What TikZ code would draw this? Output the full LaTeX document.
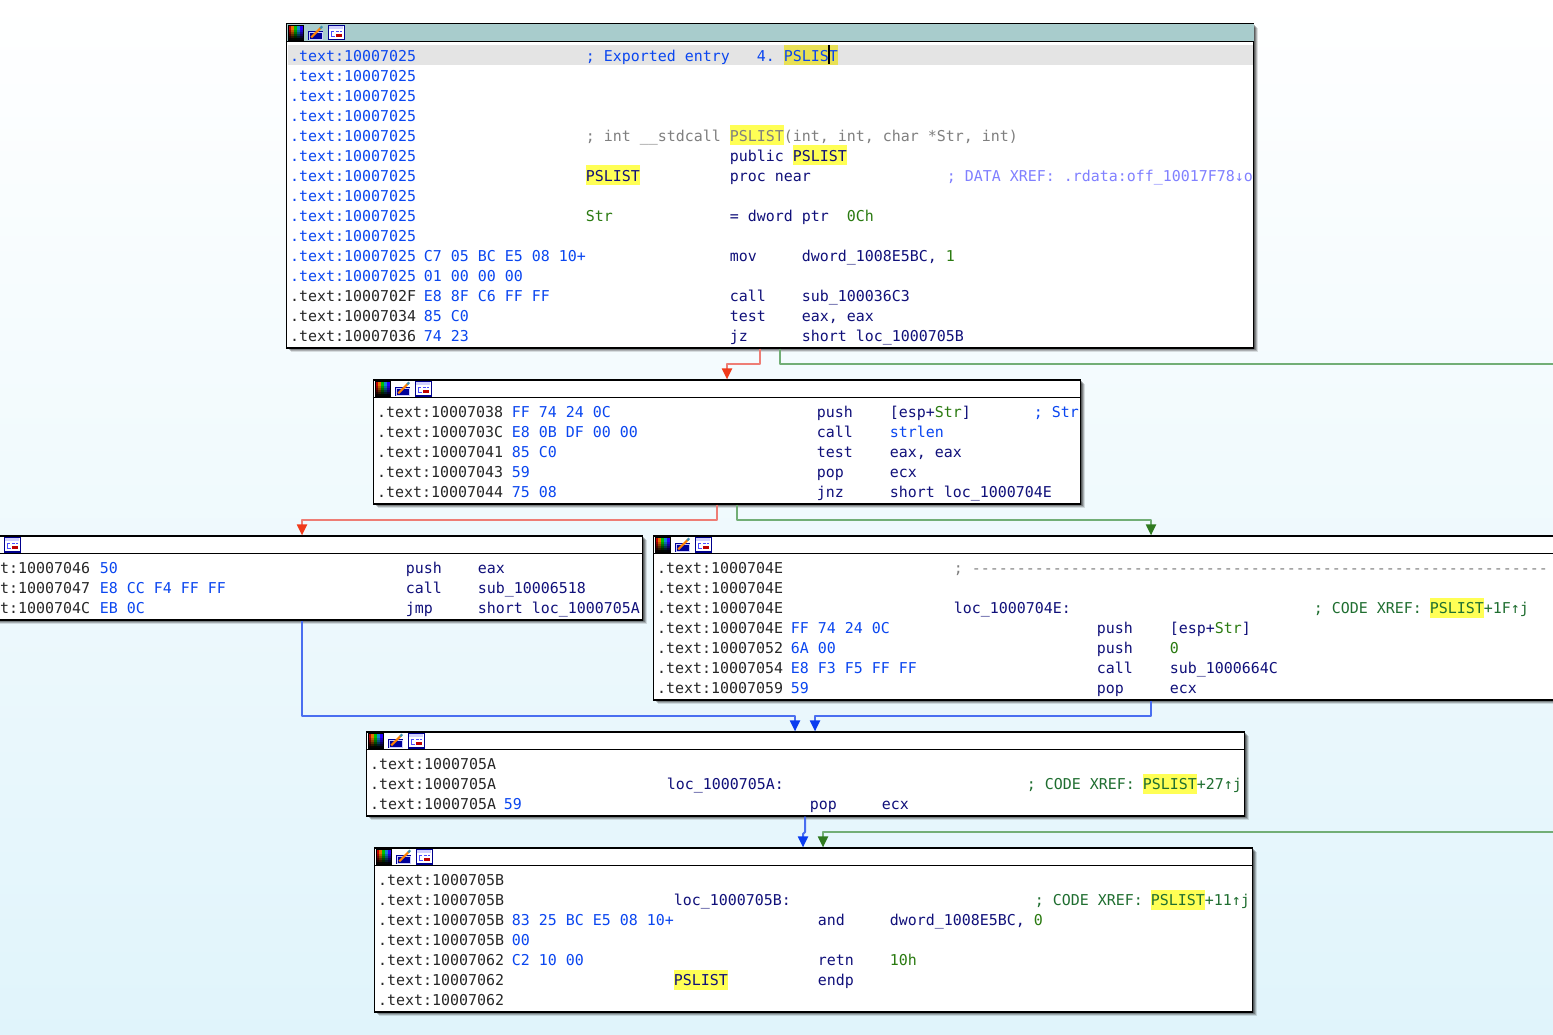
\documentclass[tikz,border=0pt]{standalone}
\usepackage{fontspec}
\setmonofont{DejaVu Sans Mono}
\usepackage{xcolor}
\usepackage{tikz}
\usetikzlibrary{arrows.meta,shadows}
\definecolor{bgbottom}{HTML}{E0F4FB}
\definecolor{barteal}{HTML}{A8CCCC}
\definecolor{rowgray}{HTML}{E4E4E4}
\definecolor{hlyellow}{HTML}{FFFF55}
\definecolor{hlgray}{HTML}{E8E055}
\definecolor{linkblue}{HTML}{0A46F0}
\definecolor{navy}{HTML}{10107A}
\definecolor{okgreen}{HTML}{2A7A10}
\definecolor{cmtgreen}{HTML}{1F6E30}
\definecolor{cmtgray}{HTML}{7F7F7F}
\definecolor{cmtviolet}{HTML}{8080FF}
\definecolor{redline}{HTML}{EE7D75}
\definecolor{redtip}{HTML}{F03A1A}
\definecolor{greenline}{HTML}{72AE76}
\definecolor{greentip}{HTML}{2F7A1F}
\definecolor{blueline}{HTML}{4A6EF0}
\definecolor{bluetip}{HTML}{0A3CF0}
\newcommand{\codefont}{\fontsize{14.95}{20}\selectfont\ttfamily}
\tikzstyle{block}=[
  draw=black,line width=1.2pt,fill=white,anchor=north west,inner sep=0pt,
  drop shadow={shadow xshift=1pt,shadow yshift=-1pt,opacity=.3,fill=black},
  drop shadow={shadow xshift=2pt,shadow yshift=-2pt,opacity=.25,fill=black},
  drop shadow={shadow xshift=3pt,shadow yshift=-3pt,opacity=.2,fill=black},
  drop shadow={shadow xshift=4pt,shadow yshift=-4pt,opacity=.12,fill=black}
]
\tikzstyle{headline}=[black,line width=1.2pt]
\tikzstyle{tx}=[anchor=west,inner sep=0pt,text height=15pt,text depth=5pt,font=\codefont,xshift=-.4pt,yshift=-.3pt]
\tikzstyle{txadr}=[tx,text=black!85,xshift=-.7pt]
\tikzstyle{txadrb}=[tx,text=linkblue,xshift=-.7pt]
\tikzstyle{txbyte}=[tx,text=linkblue]
\tikzstyle{txop}=[tx,text=navy]
\tikzstyle{txnum}=[tx,text=okgreen]
\tikzstyle{txcode}=[tx,text=cmtgreen]
\tikzstyle{txgray}=[tx,text=cmtgray]
\tikzstyle{hl}=[tx,fill=hlyellow,text=navy]
\tikzstyle{hltop}=[hl,text height=16pt,text depth=4pt,yshift=1pt]
\tikzstyle{flow}=[line width=2pt,line join=round]
\tikzset{
  redflow/.style={flow,draw=redline,-{Stealth[inset=0pt,length=11pt,width=10pt,color=redtip]}},
  greenflow/.style={flow,draw=greenline,-{Stealth[inset=0pt,length=11pt,width=10pt,color=greentip]}},
  blueflow/.style={flow,draw=blueline,-{Stealth[inset=0pt,length=11pt,width=10pt,color=bluetip]}},
  icons/.pic={
    % palette
    \foreach \x/\c in {2/red!75!black,5/orange!90!black,8/green!75!black,11/cyan!70!blue,14/blue!85!magenta}
      \fill[\c] (\x,2) rectangle ++(3,15);
    \foreach \s/\o in {7/.2,9/.25,11/.35,13/.5,15/.8}
      \fill[black,opacity=\o] (2,\s) rectangle (17,17);
    \draw[black,line width=.8pt] (2,2) rectangle (17,17);
    % pencil
    \fill[blue!60!black] (22,8) rectangle (37,17);
    \draw[white!80!blue,line width=.6pt] (23,9) rectangle (36,16);
    \draw[orange,line width=2.2pt] (25,14) -- (35,4);
    \draw[cyan!70!black,line width=2pt] (34,5) -- (36,3);
    % graph
    \fill[white] (42.2,2) rectangle (58.2,16.5);
    \fill[blue!18] (43.2,3) rectangle (57.2,6);
    \draw[blue!55!black,line width=1.2pt] (42.2,2) rectangle (58.2,16.5);
    \draw[blue!70,line width=.9pt] (44.7,8) -- (47.7,8) (49.7,8) -- (52.7,8) (53.7,8) -- (55.7,8) (45.7,8) -- (45.7,13) -- (48.7,13);
    \fill[red!75!black] (49.7,11) rectangle (56.2,14);
  }
}
\begin{document}
\begin{tikzpicture}[x=1pt,y=-1pt]
    \useasboundingbox (0,0) rectangle (1553,1035);
    \clip (0,0) rectangle (1553,1035);
    \shade[top color=white,bottom color=bgbottom] (0,0) rectangle (1553,1035);
    % blocks
    \node[block,minimum width=967,minimum height=324] (top) at (286.2,23.4) {};
    \node[block,minimum width=707,minimum height=124] (strchk) at (373.2,379.4) {};
    \node[block,minimum width=662,minimum height=84] (leftb) at (-20,535.4) {};
    \node[block,minimum width=930,minimum height=164] (rightb) at (653.2,535.4) {};
    \node[block,minimum width=878,minimum height=84] (locA) at (366.2,731.4) {};
    \node[block,minimum width=878,minimum height=164] (locB) at (374.2,847.4) {};
    % title bars
    \fill[barteal] ([shift={(.6,.6)}]top.north west) rectangle ([shift={(-.6,0)}]top.east |- 0,41.4);
    \foreach \b/\y in {top/41.4,strchk/397.4,leftb/553.4,rightb/553.4,locA/749.4,locB/865.4}
      \draw[headline] (\b.west |- 0,\y) -- (\b.east |- 0,\y);
    \pic at (286.2,23.4) {icons};
    \pic at (373.2,379.4) {icons};
    \pic at (-37.8,535.4) {icons};
    \pic at (653.2,535.4) {icons};
    \pic at (366.2,731.4) {icons};
    \pic at (374.2,847.4) {icons};
    % selected row
    \fill[rowgray] (287.5,45) rectangle (1253,65);
    % connectors
    \draw[redflow] (760,0 |- top.south) -- (760,364) -- (727,364) -- (727,0 |- strchk.north);
    \coordinate (outgreen) at (1560,364);
    \draw[flow,draw=greenline] (780,0 |- top.south) -- (780,364) -- (outgreen);
    \draw[redflow] (717,0 |- strchk.south) -- (717,520) -- (302,520) -- (302,0 |- leftb.north);
    \draw[greenflow] (737,0 |- strchk.south) -- (737,520) -- (1151,520) -- (1151,0 |- rightb.north);
    \draw[blueflow] (302,0 |- leftb.south) -- (302,716) -- (795,716) -- (795,0 |- locA.north);
    \draw[blueflow] (1151,0 |- rightb.south) -- (1151,716) -- (815,716) -- (815,0 |- locA.north);
    \draw[blueflow] (805,0 |- locA.south) -- (805,832) -- (803,834) -- (803,0 |- locB.north);
    \coordinate (ingreen) at (1560,832);
    \draw[greenflow] (ingreen) -- (823,832) -- (823,0 |- locB.north);
    % first block
    \foreach \y [count=\i] in {56,76,96,116,136,156,176,196,216,236,256,276}
      \node[txadrb] (ta\i) at (291,\y) {.text:10007025};
    \node[txadr] (ta13) at (291,296) {.text:1000702F};
    \node[txadr] (ta14) at (291,316) {.text:10007034};
    \node[txadr] (ta15) at (291,336) {.text:10007036};
    \node[txbyte] (tc1) at (586,56) {; Exported entry};
    \node[txbyte] (tc2) at (757,56) {4.};
    \node[hltop,fill=hlgray,text=linkblue] (th1) at (784,56) {PSLIST};
    \node[txgray] (tc3) at (586,136) {; int \_\_stdcall};
    \node[hltop,text=cmtgray] (th2) at (730,136) {PSLIST};
    \node[txgray] (tc4) at (784,136) {(int, int, char *Str, int)};
    \node[txop] (tm1) at (730,156) {public};
    \node[hltop] (th3) at (793,156) {PSLIST};
    \node[hltop] (th4) at (586,176) {PSLIST};
    \node[txop] (tm2) at (730,176) {proc near};
    \node[tx,text=cmtviolet] (tc5) at (947,176) {; DATA XREF: .rdata:off\_10017F78↓o};
    \node[txnum] (ts1) at (586,216) {Str};
    \node[txop] (tm3) at (730,216) {= dword ptr};
    \node[txnum] (ts2) at (847,216) {0Ch};
    \node[txbyte] (tb1) at (424,256) {C7 05 BC E5 08 10+};
    \node[txop] (tm4) at (730,256) {mov};
    \node[txop] (to4) at (802,256) {dword\_1008E5BC,};
    \node[txnum] (ts3) at (946,256) {1};
    \node[txbyte] (tb2) at (424,276) {01 00 00 00};
    \node[txbyte] (tb3) at (424,296) {E8 8F C6 FF FF};
    \node[txop] (tm5) at (730,296) {call};
    \node[txop] (to5) at (802,296) {sub\_100036C3};
    \node[txbyte] (tb4) at (424,316) {85 C0};
    \node[txop] (tm6) at (730,316) {test};
    \node[txop] (to6) at (802,316) {eax, eax};
    \node[txbyte] (tb5) at (424,336) {74 23};
    \node[txop] (tm7) at (730,336) {jz};
    \node[txop] (to7) at (802,336) {short loc\_1000705B};
    \draw[black,line width=2pt] (829,45) -- (829,64);
    % strlen block
    \foreach \y/\a/\b/\m [count=\i] in {412/10007038/FF 74 24 0C/push,432/1000703C/E8 0B DF 00 00/call,
        452/10007041/85 C0/test,472/10007043/59/pop,492/10007044/75 08/jnz}{
      \node[txadr] (sa\i) at (378,\y) {.text:\a};
      \node[txbyte] (sb\i) at (512,\y) {\b};
      \node[txop] (sm\i) at (817,\y) {\m};
    }
    \node[txop] (so1) at (890,412) {[esp+\textcolor{okgreen}{Str}]};
    \node[txbyte] (sc1) at (1034,412) {; Str};
    \node[txbyte] (so2) at (890,432) {strlen};
    \node[txop] (so3) at (890,452) {eax, eax};
    \node[txop] (so4) at (890,472) {ecx};
    \node[txop] (so5) at (890,492) {short loc\_1000704E};
    % left block
    \foreach \y/\a/\b/\m/\o [count=\i] in {568/10007046/50/push/eax,588/10007047/E8 CC F4 FF FF/call/sub\_10006518,
        608/1000704C/EB 0C/jmp/short loc\_1000705A}{
      \node[txadr] (la\i) at (1,\y) {t:\a};
      \node[txbyte] (lb\i) at (100,\y) {\b};
      \node[txop] (lm\i) at (406,\y) {\m};
      \node[txop] (lo\i) at (478,\y) {\o};
    }
    % right block
    \foreach \y/\a [count=\i] in {568/1000704E,588/1000704E,608/1000704E,628/1000704E,648/10007052,668/10007054,688/10007059}
      \node[txadr] (ra\i) at (658,\y) {.text:\a};
    \node[txgray] (rc1) at (954,568) {; ----------------------------------------------------------------};
    \node[txop] (rl1) at (954,608) {loc\_1000704E:};
    \node[txcode] (rc2) at (1314,608) {; CODE XREF:};
    \node[hl,text=cmtgreen] (rh1) at (1430,608) {PSLIST};
    \node[txcode] (rc3) at (1484,608) {+1F↑j};
    \node[txbyte] (rb1) at (791,628) {FF 74 24 0C};
    \node[txop] (rm1) at (1097,628) {push};
    \node[txop] (ro1) at (1170,628) {[esp+\textcolor{okgreen}{Str}]};
    \node[txbyte] (rb2) at (791,648) {6A 00};
    \node[txop] (rm2) at (1097,648) {push};
    \node[txnum] (ro2) at (1170,648) {0};
    \node[txbyte] (rb3) at (791,668) {E8 F3 F5 FF FF};
    \node[txop] (rm3) at (1097,668) {call};
    \node[txop] (ro3) at (1170,668) {sub\_1000664C};
    \node[txbyte] (rb4) at (791,688) {59};
    \node[txop] (rm4) at (1097,688) {pop};
    \node[txop] (ro4) at (1170,688) {ecx};
    % loc_1000705A
    \foreach \y [count=\i] in {764,784,804}
      \node[txadr] (pa\i) at (371,\y) {.text:1000705A};
    \node[txop] (pl1) at (667,784) {loc\_1000705A:};
    \node[txcode] (pc1) at (1027,784) {; CODE XREF:};
    \node[hl,text=cmtgreen] (ph1) at (1143,784) {PSLIST};
    \node[txcode] (pc2) at (1197,784) {+27↑j};
    \node[txbyte] (pb1) at (504,804) {59};
    \node[txop] (pm1) at (810,804) {pop};
    \node[txop] (po1) at (882,804) {ecx};
    % loc_1000705B
    \foreach \y/\a [count=\i] in {880/1000705B,900/1000705B,920/1000705B,940/1000705B,960/10007062,980/10007062,1000/10007062}
      \node[txadr] (qa\i) at (379,\y) {.text:\a};
    \node[txop] (ql1) at (674,900) {loc\_1000705B:};
    \node[txcode] (qc1) at (1035,900) {; CODE XREF:};
    \node[hl,text=cmtgreen] (qh1) at (1151,900) {PSLIST};
    \node[txcode] (qc2) at (1205,900) {+11↑j};
    \node[txbyte] (qb1) at (512,920) {83 25 BC E5 08 10+};
    \node[txop] (qm1) at (818,920) {and};
    \node[txop] (qo1) at (890,920) {dword\_1008E5BC,};
    \node[txnum] (qo2) at (1034,920) {0};
    \node[txbyte] (qb2) at (512,940) {00};
    \node[txbyte] (qb3) at (512,960) {C2 10 00};
    \node[txop] (qm2) at (818,960) {retn};
    \node[txnum] (qo3) at (890,960) {10h};
    \node[hl] (qh2) at (674,980) {PSLIST};
    \node[txop] (qm3) at (818,980) {endp};
\end{tikzpicture}
\end{document}
